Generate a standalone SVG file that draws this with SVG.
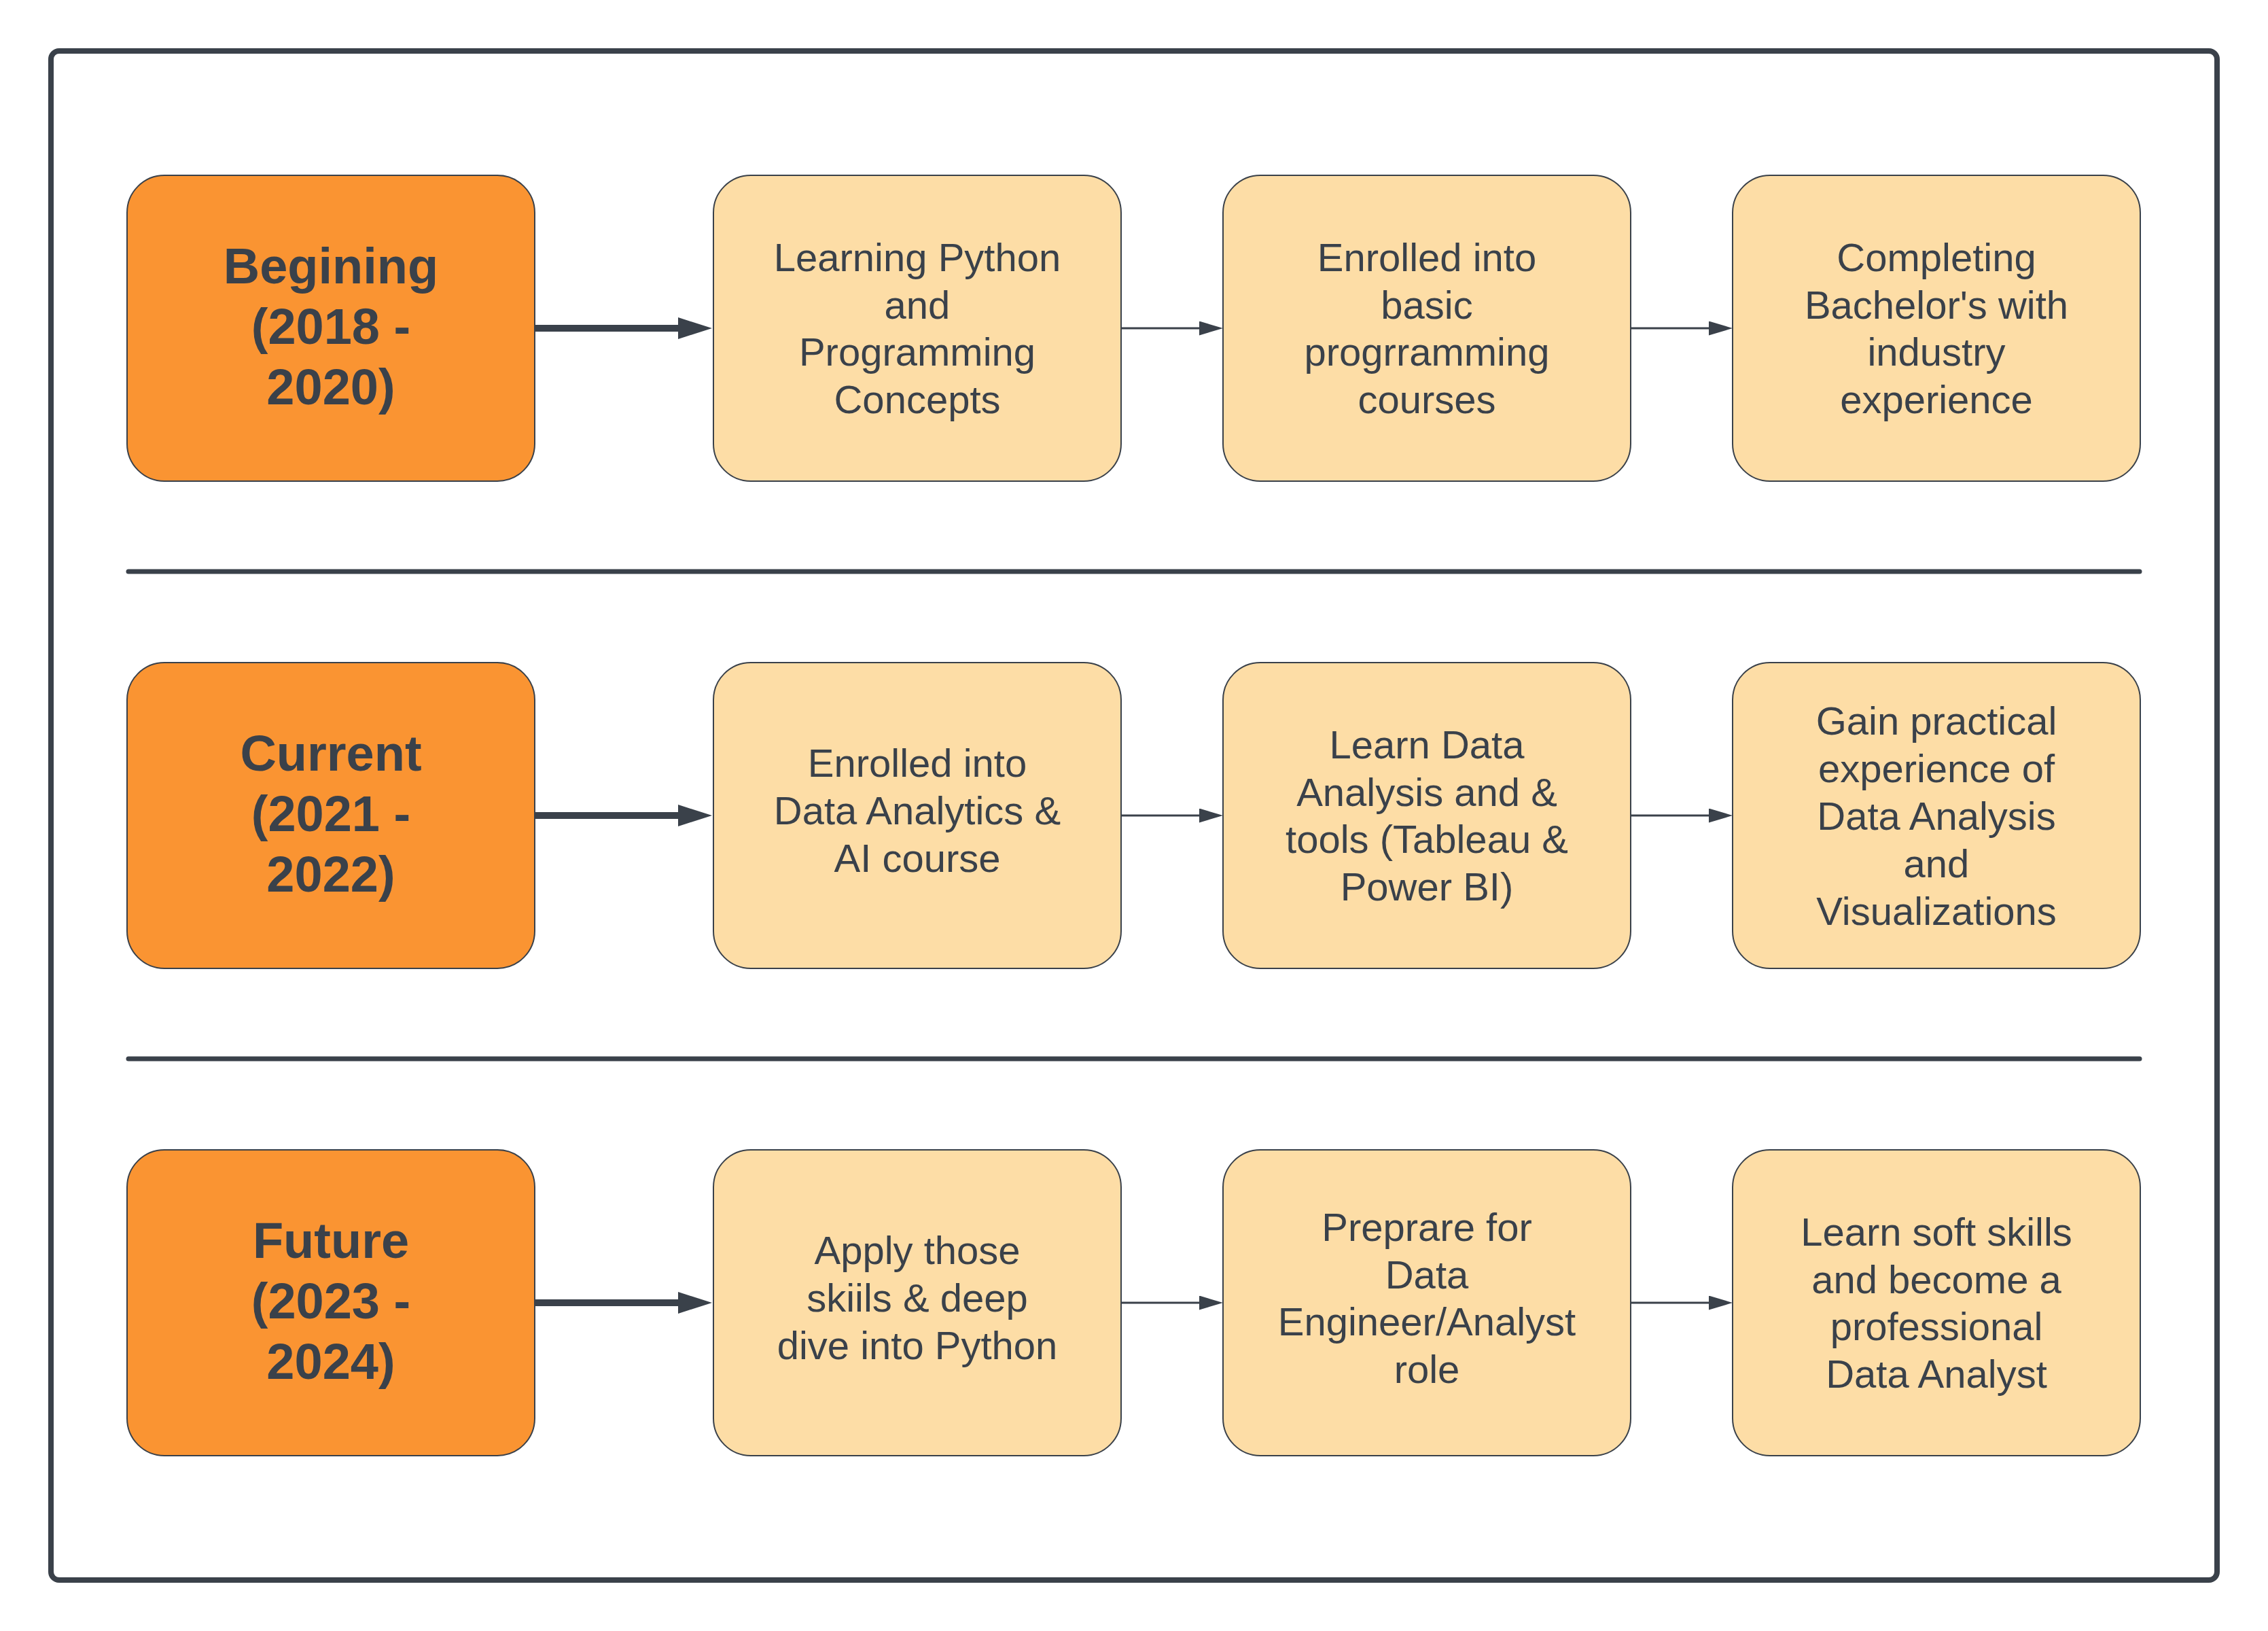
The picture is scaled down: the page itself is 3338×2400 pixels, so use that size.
<svg xmlns="http://www.w3.org/2000/svg" width="3338" height="2400" viewBox="0 0 3338 2400">
<style>
.frame{fill:#ffffff;stroke:#3a414a;stroke-width:8}
.sep{stroke:#3a414a;stroke-width:7;stroke-linecap:round}
.phase{fill:#fa9432;stroke:#3a414a;stroke-width:2}
.step{fill:#fdddA6;stroke:#3a414a;stroke-width:2}
.bt{font-family:"Liberation Sans",Arial,sans-serif;font-weight:bold;font-size:74px;fill:#3a414a;text-anchor:middle}
.rt{font-family:"Liberation Sans",Arial,sans-serif;font-size:58px;fill:#3a414a;text-anchor:middle}
.thick{stroke:#3a414a;stroke-width:10;fill:none}
.thin{stroke:#3a414a;stroke-width:3;fill:none}
</style>
<defs>
<marker id="ah-thick" markerUnits="userSpaceOnUse" viewBox="0 0 50 32" markerWidth="50" markerHeight="32" refX="0" refY="16" orient="auto"><path d="M0,0 L50,16 L0,32 Z" fill="#3a414a"/></marker>
<marker id="ah-thin" markerUnits="userSpaceOnUse" viewBox="0 0 35 21" markerWidth="35" markerHeight="21" refX="0" refY="10.5" orient="auto"><path d="M0,0 L35,10.5 L0,21 Z" fill="#3a414a"/></marker>
</defs>
<rect width="3338" height="2400" fill="#ffffff"/>
<rect class="frame" x="75" y="75" width="3188" height="2250" rx="12"/>
<line class="sep" x1="189" y1="841" x2="3149" y2="841"/>
<line class="sep" x1="189" y1="1558" x2="3149" y2="1558"/>

<g id="connectors">
<path class="thick" d="M787,483 L998,483" marker-end="url(#ah-thick)"/>
<path class="thin" d="M1651,483 L1765,483" marker-end="url(#ah-thin)"/>
<path class="thin" d="M2401,483 L2515,483" marker-end="url(#ah-thin)"/>
<path class="thick" d="M787,1200 L998,1200" marker-end="url(#ah-thick)"/>
<path class="thin" d="M1651,1200 L1765,1200" marker-end="url(#ah-thin)"/>
<path class="thin" d="M2401,1200 L2515,1200" marker-end="url(#ah-thin)"/>
<path class="thick" d="M787,1917 L998,1917" marker-end="url(#ah-thick)"/>
<path class="thin" d="M1651,1917 L1765,1917" marker-end="url(#ah-thin)"/>
<path class="thin" d="M2401,1917 L2515,1917" marker-end="url(#ah-thin)"/>
</g>

<g id="begining">
<rect class="phase" x="187" y="258" width="600" height="450" rx="55"/>
<text class="bt" x="487" y="417">Begining</text>
<text class="bt" x="487" y="506">(2018 -</text>
<text class="bt" x="487" y="595">2020)</text>
</g>
<g id="learning-python">
<rect class="step" x="1050" y="258" width="600" height="450" rx="55"/>
<text class="rt" x="1350" y="399">Learning Python</text>
<text class="rt" x="1350" y="469">and</text>
<text class="rt" x="1350" y="538">Programming</text>
<text class="rt" x="1350" y="608">Concepts</text>
</g>
<g id="basic-courses">
<rect class="step" x="1800" y="258" width="600" height="450" rx="55"/>
<text class="rt" x="2100" y="399">Enrolled into</text>
<text class="rt" x="2100" y="469">basic</text>
<text class="rt" x="2100" y="538">progrramming</text>
<text class="rt" x="2100" y="608">courses</text>
</g>
<g id="bachelors">
<rect class="step" x="2550" y="258" width="600" height="450" rx="55"/>
<text class="rt" x="2850" y="399">Completing</text>
<text class="rt" x="2850" y="469">Bachelor's with</text>
<text class="rt" x="2850" y="538">industry</text>
<text class="rt" x="2850" y="608">experience</text>
</g>

<g id="current">
<rect class="phase" x="187" y="975" width="600" height="450" rx="55"/>
<text class="bt" x="487" y="1134">Current</text>
<text class="bt" x="487" y="1223">(2021 -</text>
<text class="bt" x="487" y="1312">2022)</text>
</g>
<g id="data-analytics-course">
<rect class="step" x="1050" y="975" width="600" height="450" rx="55"/>
<text class="rt" x="1350" y="1143">Enrolled into</text>
<text class="rt" x="1350" y="1213">Data Analytics &amp;</text>
<text class="rt" x="1350" y="1283">AI course</text>
</g>
<g id="learn-tools">
<rect class="step" x="1800" y="975" width="600" height="450" rx="55"/>
<text class="rt" x="2100" y="1116">Learn Data</text>
<text class="rt" x="2100" y="1186">Analysis and &amp;</text>
<text class="rt" x="2100" y="1255">tools (Tableau &amp;</text>
<text class="rt" x="2100" y="1325">Power BI)</text>
</g>
<g id="practical-experience">
<rect class="step" x="2550" y="975" width="600" height="450" rx="55"/>
<text class="rt" x="2850" y="1081">Gain practical</text>
<text class="rt" x="2850" y="1151">experience of</text>
<text class="rt" x="2850" y="1221">Data Analysis</text>
<text class="rt" x="2850" y="1291">and</text>
<text class="rt" x="2850" y="1361">Visualizations</text>
</g>

<g id="future">
<rect class="phase" x="187" y="1692" width="600" height="450" rx="55"/>
<text class="bt" x="487" y="1851">Future</text>
<text class="bt" x="487" y="1940">(2023 -</text>
<text class="bt" x="487" y="2029">2024)</text>
</g>
<g id="apply-skills">
<rect class="step" x="1050" y="1692" width="600" height="450" rx="55"/>
<text class="rt" x="1350" y="1860">Apply those</text>
<text class="rt" x="1350" y="1930">skiils &amp; deep</text>
<text class="rt" x="1350" y="2000">dive into Python</text>
</g>
<g id="prepare-role">
<rect class="step" x="1800" y="1692" width="600" height="450" rx="55"/>
<text class="rt" x="2100" y="1826">Preprare for</text>
<text class="rt" x="2100" y="1896">Data</text>
<text class="rt" x="2100" y="1965">Engineer/Analyst</text>
<text class="rt" x="2100" y="2035">role</text>
</g>
<g id="soft-skills">
<rect class="step" x="2550" y="1692" width="600" height="450" rx="55"/>
<text class="rt" x="2850" y="1833">Learn soft skills</text>
<text class="rt" x="2850" y="1903">and become a</text>
<text class="rt" x="2850" y="1972">professional</text>
<text class="rt" x="2850" y="2042">Data Analyst</text>
</g>
</svg>
